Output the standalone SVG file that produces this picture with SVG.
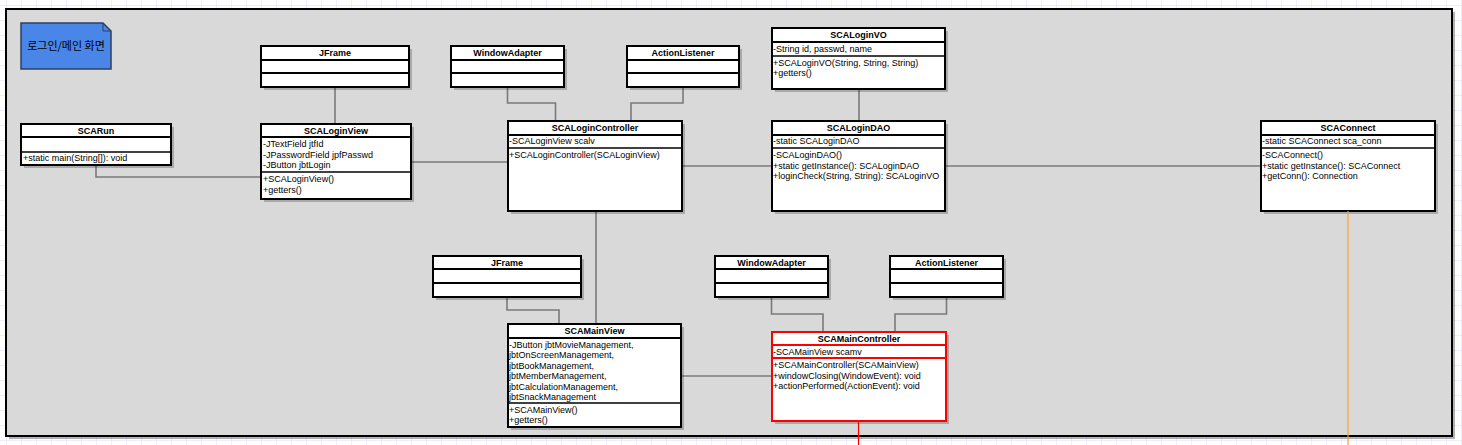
<svg xmlns="http://www.w3.org/2000/svg" width="1462" height="445" viewBox="0 0 1462 445">
<style>
.t{font-family:"Liberation Sans",Arial,sans-serif;font-size:9px;fill:#000}
.h{font-weight:bold;text-anchor:middle}
.box{fill:#fff;stroke:#000;stroke-width:2}
.red{stroke:#ff0000}
.sh{fill:#000;opacity:0.22}
.dv{stroke:#000;stroke-width:2}
.dv2{stroke:#000;stroke-width:1.5}
.dr{stroke:#ff0000;stroke-width:2}
.conn{fill:none;stroke:#7a7a7a;stroke-width:1.6}
</style>
<defs>
<pattern id="grid" x="6" y="5" width="15" height="15" patternUnits="userSpaceOnUse">
<path d="M0,0 H15 M0,0 V15" fill="none" stroke="#dedef6" stroke-width="1"/>
</pattern>
</defs>
<rect x="0" y="0" width="1462" height="445" fill="#fff"/>
<rect x="0" y="0" width="1462" height="445" fill="url(#grid)"/>
<g id="frame">
<rect x="9" y="12" width="1446" height="427" fill="#000" opacity="0.3"/>
<rect x="6" y="9" width="1446" height="427" fill="#d9d9d9" stroke="#000" stroke-width="2"/>
</g>
<g id="note">
<path d="M21,23 H103 L111,31 V69 H21 Z" fill="#4a86e8" stroke="#2e3f5c" stroke-width="1.5"/>
<path d="M103,23 V31 H111" fill="none" stroke="#2e3f5c" stroke-width="1"/>
<text x="66" y="50" text-anchor="middle" style="font-family:'Noto Sans CJK KR','Liberation Sans',sans-serif;font-size:11px;fill:#000">로그인/메인 화면</text>
</g>
<g id="connectors">
<path class="conn" d="M335,87 V124"/>
<path class="conn" d="M96,165 V177 H261"/>
<path class="conn" d="M411,162 H508"/>
<path class="conn" d="M507.5,87 V103 H555.5 V121"/>
<path class="conn" d="M683,87 V103 H631 V121"/>
<path class="conn" d="M682,166 H772"/>
<path class="conn" d="M859,89 V121"/>
<path class="conn" d="M945,166 H1261"/>
<path class="conn" d="M596,211 V324"/>
<path class="conn" d="M507,297 V310 H559 V324"/>
<path class="conn" d="M681,376 H772"/>
<path class="conn" d="M771.5,297 V314 H823 V332"/>
<path class="conn" d="M946.5,297 V314 H895 V332"/>
</g>
<g id="JFrame1">
<rect class="sh" x="264" y="49" width="148" height="41"/>
<rect class="box" x="261" y="46" width="148" height="41"/>
<line class="dv" x1="261" y1="60" x2="409" y2="60"/><line class="dv" x1="261" y1="73" x2="409" y2="73"/>
<text class="t h" x="335" y="56">JFrame</text>
</g>
<g id="WindowAdapter1">
<rect class="sh" x="454" y="49" width="113" height="41"/>
<rect class="box" x="451" y="46" width="113" height="41"/>
<line class="dv" x1="451" y1="60" x2="564" y2="60"/><line class="dv" x1="451" y1="73" x2="564" y2="73"/>
<text class="t h" x="507.5" y="56">WindowAdapter</text>
</g>
<g id="ActionListener1">
<rect class="sh" x="630" y="49" width="112" height="41"/>
<rect class="box" x="627" y="46" width="112" height="41"/>
<line class="dv" x1="627" y1="60" x2="739" y2="60"/><line class="dv" x1="627" y1="73" x2="739" y2="73"/>
<text class="t h" x="683" y="56">ActionListener</text>
</g>
<g id="SCALoginVO">
<rect class="sh" x="775" y="31" width="173" height="61"/>
<rect class="box" x="772" y="28" width="173" height="61"/>
<line class="dv" x1="772" y1="42" x2="945" y2="42"/><line class="dv2" x1="772" y1="56" x2="945" y2="56"/>
<text class="t h" x="858.5" y="38">SCALoginVO</text>
<text class="t" x="773" y="52">-String id, passwd, name</text>
<text class="t" x="773" y="65.5">+SCALoginVO(String, String, String)</text>
<text class="t" x="773" y="76">+getters()</text>
</g>
<g id="SCARun">
<rect class="sh" x="24" y="127" width="150" height="41"/>
<rect class="box" x="21" y="124" width="150" height="41"/>
<line class="dv" x1="21" y1="137" x2="171" y2="137"/><line class="dv2" x1="21" y1="152" x2="171" y2="152"/>
<text class="t h" x="96" y="134">SCARun</text>
<text class="t" x="23" y="161">+static main(String[]): void</text>
</g>
<g id="SCALoginView">
<rect class="sh" x="264" y="127" width="150" height="75"/>
<rect class="box" x="261" y="124" width="150" height="75"/>
<line class="dv" x1="261" y1="137" x2="411" y2="137"/><line class="dv2" x1="261" y1="172" x2="411" y2="172"/>
<text class="t h" x="336" y="134">SCALoginView</text>
<text class="t" x="263" y="147">-JTextField jtfId</text>
<text class="t" x="263" y="157.5">-JPasswordField jpfPasswd</text>
<text class="t" x="263" y="168">-JButton jbtLogin</text>
<text class="t" x="263" y="182">+SCALoginView()</text>
<text class="t" x="263" y="193">+getters()</text>
</g>
<g id="SCALoginController">
<rect class="sh" x="511" y="124" width="174" height="90"/>
<rect class="box" x="508" y="121" width="174" height="90"/>
<line class="dv" x1="508" y1="135" x2="682" y2="135"/><line class="dv2" x1="508" y1="148" x2="682" y2="148"/>
<text class="t h" x="595" y="131">SCALoginController</text>
<text class="t" x="509" y="144">-SCALoginView scalv</text>
<text class="t" x="509" y="158">+SCALoginController(SCALoginView)</text>
</g>
<g id="SCALoginDAO">
<rect class="sh" x="775" y="124" width="173" height="90"/>
<rect class="box" x="772" y="121" width="173" height="90"/>
<line class="dv" x1="772" y1="135" x2="945" y2="135"/><line class="dv2" x1="772" y1="148" x2="945" y2="148"/>
<text class="t h" x="858.5" y="131">SCALoginDAO</text>
<text class="t" x="773" y="144">-static SCALoginDAO</text>
<text class="t" x="773" y="158">-SCALoginDAO()</text>
<text class="t" x="773" y="168.5">+static getInstance(): SCALoginDAO</text>
<text class="t" x="773" y="179">+loginCheck(String, String): SCALoginVO</text>
</g>
<g id="SCAConnect">
<rect class="sh" x="1264" y="124" width="174" height="90"/>
<rect class="box" x="1261" y="121" width="174" height="90"/>
<line class="dv" x1="1261" y1="135" x2="1435" y2="135"/><line class="dv2" x1="1261" y1="148" x2="1435" y2="148"/>
<text class="t h" x="1348" y="131">SCAConnect</text>
<text class="t" x="1262" y="144">-static SCAConnect sca_conn</text>
<text class="t" x="1262" y="158">-SCAConnect()</text>
<text class="t" x="1262" y="168.5">+static getInstance(): SCAConnect</text>
<text class="t" x="1262" y="179">+getConn(): Connection</text>
</g>
<g id="JFrame2">
<rect class="sh" x="436" y="259" width="148" height="41"/>
<rect class="box" x="433" y="256" width="148" height="41"/>
<line class="dv" x1="433" y1="269" x2="581" y2="269"/><line class="dv" x1="433" y1="283" x2="581" y2="283"/>
<text class="t h" x="507" y="266">JFrame</text>
</g>
<g id="SCAMainView">
<rect class="sh" x="511" y="327" width="173" height="103"/>
<rect class="box" x="508" y="324" width="173" height="103"/>
<line class="dv" x1="508" y1="338" x2="681" y2="338"/><line class="dv2" x1="508" y1="403" x2="681" y2="403"/>
<text class="t h" x="594.5" y="334">SCAMainView</text>
<text class="t" x="509" y="347.5">-JButton jbtMovieManagement,</text>
<text class="t" x="509" y="358">jbtOnScreenManagement,</text>
<text class="t" x="509" y="368.5">jbtBookManagement,</text>
<text class="t" x="509" y="379">jbtMemberManagement,</text>
<text class="t" x="509" y="389.5">jbtCalculationManagement,</text>
<text class="t" x="509" y="400">jbtSnackManagement</text>
<text class="t" x="509" y="412.5">+SCAMainView()</text>
<text class="t" x="509" y="423">+getters()</text>
</g>
<g id="WindowAdapter2">
<rect class="sh" x="718" y="259" width="113" height="41"/>
<rect class="box" x="715" y="256" width="113" height="41"/>
<line class="dv" x1="715" y1="269" x2="828" y2="269"/><line class="dv" x1="715" y1="283" x2="828" y2="283"/>
<text class="t h" x="771.5" y="266">WindowAdapter</text>
</g>
<g id="ActionListener2">
<rect class="sh" x="893" y="259" width="113" height="41"/>
<rect class="box" x="890" y="256" width="113" height="41"/>
<line class="dv" x1="890" y1="269" x2="1003" y2="269"/><line class="dv" x1="890" y1="283" x2="1003" y2="283"/>
<text class="t h" x="946.5" y="266">ActionListener</text>
</g>
<g id="SCAMainController">
<rect class="sh" x="775" y="335" width="174" height="89"/>
<rect class="box red" x="772" y="332" width="174" height="89"/>
<line class="dr" x1="772" y1="345" x2="946" y2="345"/><line class="dr" x1="772" y1="358" x2="946" y2="358"/>
<text class="t h" x="859" y="341.5">SCAMainController</text>
<text class="t" x="773" y="354.5">-SCAMainView scamv</text>
<text class="t" x="773" y="367.5">+SCAMainController(SCAMainView)</text>
<text class="t" x="773" y="378.5">+windowClosing(WindowEvent): void</text>
<text class="t" x="773" y="389">+actionPerformed(ActionEvent): void</text>
</g>
<g id="outgoing">
<path d="M1348,211 V445" fill="none" stroke="#f5a623" stroke-width="1.2"/>
<path d="M858.5,421 V445" fill="none" stroke="#ff0000" stroke-width="1.2"/>
</g>
</svg>
